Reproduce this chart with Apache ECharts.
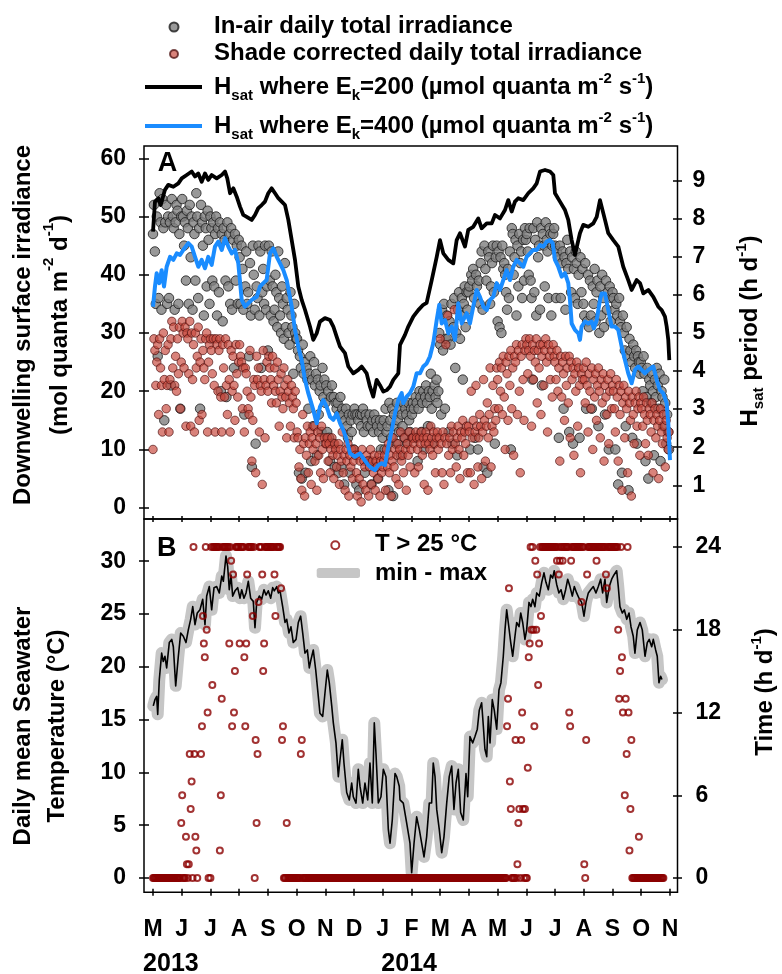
<!DOCTYPE html>
<html><head><meta charset="utf-8">
<script src="https://cdn.jsdelivr.net/npm/echarts@6/dist/echarts.min.js"></script>
<style>html,body{margin:0;padding:0;background:#fff}#c{width:782px;height:974px}</style>
</head><body><div id="c"></div>
<script>
const FONT = '"Liberation Sans", Arial, sans-serif';

// ---- axis ticks / labels ----
const monthTicks = [0,30.5,61,91.5,122,152.5,183,213.5,244,274.5,305,335.5,366,396.5,427,457.5,488,518.5,549];
const monthLetters = ['M','J','J','A','S','O','N','D','J','F','M','A','M','J','J','A','S','O','N'];
const yearLabelPos = [19, 272];
const yearLabels = ['2013','2014'];
const irrTicks = [0,10,20,30,40,50,60];
const hsatTicks = [1,2,3,4,5,6,7,8,9];
const tempTicks = [0,5,10,15,20,25,30];
const hoursTicks = [0,6,12,18,24];

// ---- daily irradiance (mol quanta m-2 d-1), day 0 = 1 May 2013 ----
const airIrr = [
 47,52,44,35,50,26,36,54,49,34,53,48,15,49,52,35,50,36,49,21,53,50,48,34,49,52,51,35,47,17,50,
 53,50,45,49,39,51,48,35,52,43,50,34,49,47,39,54,50,36,48,17,52,49,45,33,50,48,38,51,46,35,
 50,48,39,49,38,47,50,33,48,37,49,20,47,32,48,46,39,19,49,38,47,35,48,34,46,24,47,39,45,35,46,
 43,35,45,41,34,16,38,44,35,37,26,42,33,7,45,40,34,11,38,36,45,33,44,24,37,41,35,45,34,38,27,
 45,39,33,44,38,32,34,40,37,31,44,36,33,30,38,35,29,42,31,36,34,30,28,37,33,31,23,35,30,29,
 29,27,6,26,24,5,28,23,25,6,24,22,17,23,26,8,22,14,25,21,23,9,22,16,20,21,13,24,19,22,18,
 21,13,20,12,8,19,21,11,19,7,18,17,18,6,16,19,7,17,16,4,15,17,14,12,16,6,15,13,16,10,
 17,16,4,16,15,3,16,14,16,17,13,6,16,15,14,8,16,14,4,15,13,16,7,15,14,5,13,15,10,14,12,
 15,10,17,13,14,3,18,15,12,17,2,16,14,11,18,15,13,17,9,16,14,18,12,17,16,11,18,15,13,17,16,
 18,17,12,19,18,8,17,20,19,13,18,20,10,19,21,18,14,20,19,23,17,20,11,21,19,22,18,20,
 30,28,16,34,27,35,17,29,33,29,13,32,28,35,11,31,36,24,30,9,34,37,29,33,36,22,35,38,31,37,34,
 37,38,10,40,39,41,36,12,40,38,10,39,35,42,44,34,7,45,41,39,6,44,43,35,38,42,45,37,11,43,
 45,32,44,31,43,30,45,41,42,40,37,34,41,36,44,10,48,47,40,43,46,33,45,38,47,42,44,36,46,39,48,
 46,47,44,40,48,39,36,22,48,37,46,33,49,43,45,34,48,21,47,45,38,49,46,44,36,48,47,33,45,47,
 48,45,36,44,43,12,45,36,42,44,17,43,34,42,46,41,13,44,37,43,11,41,36,44,42,35,40,12,43,37,41,
 35,33,42,17,32,40,31,39,33,17,38,35,41,32,37,39,14,30,38,33,40,36,31,16,39,34,37,10,38,32,36,
 37,36,34,10,35,33,4,36,32,31,6,33,30,27,14,31,26,3,29,27,25,12,28,26,24,27,11,26,25,23,
 25,24,20,26,23,8,19,24,5,22,21,18,23,20,9,22,19,24,21,17,23,8,20,19,14,22,18,11,16,13,10
];
const shadeIrr = [
 10,29,27,21,25,28,16,29,24,21,13,30,22,27,17,21,28,13,22,29,32,24,31,21,26,20,29,23,31,17,25,
 32,30,24,31,14,30,29,23,32,14,30,22,28,13,30,24,26,31,15,25,29,16,27,24,22,29,30,13,25,28,
 29,27,23,29,21,13,29,28,20,27,29,19,13,28,24,19,29,21,16,28,22,13,27,20,26,21,15,28,23,19,25,
 28,26,25,17,24,13,24,23,20,17,16,27,19,8,15,22,21,6,26,22,24,13,21,20,4,27,22,12,21,25,20,
 26,24,22,18,26,21,24,20,18,25,22,14,20,23,19,17,24,21,19,12,22,20,18,14,21,19,17,12,20,18,
 13,12,7,10,5,3,16,11,2,12,9,14,6,11,13,4,12,10,14,8,11,3,13,9,12,6,14,10,5,12,11,
 11,12,8,11,6,10,12,9,5,11,10,7,9,11,4,10,8,13,6,9,3,10,8,11,2,9,7,10,5,8,
 10,9,6,2,9,5,8,1,10,4,8,7,3,9,8,2,7,10,4,8,6,9,3,8,7,5,9,2,8,6,7,
 8,9,3,10,7,11,6,9,2,8,12,7,10,5,9,11,4,10,13,8,9,6,12,10,3,11,9,13,7,10,12,
 12,11,6,13,12,10,7,12,11,13,9,12,4,11,13,12,3,11,10,14,12,9,13,11,6,12,13,10,
 12,29,11,6,13,4,12,28,11,33,9,12,6,14,10,13,34,11,7,12,14,10,5,13,12,15,9,13,11,14,6,
 14,13,6,20,12,15,4,13,21,14,7,12,16,14,5,13,22,15,8,14,18,12,16,24,7,14,21,13,17,15,
 24,22,17,25,20,24,16,26,19,10,25,23,15,26,21,27,17,24,9,26,25,28,16,27,20,6,26,28,22,15,27,
 29,28,23,27,29,26,14,28,22,27,25,29,18,27,24,28,16,26,28,21,27,29,25,13,28,26,22,27,19,28,
 26,25,22,27,20,24,8,26,19,25,23,15,26,21,24,18,26,12,25,22,24,9,23,20,25,14,24,21,6,23,22,
 24,22,18,25,21,13,23,20,17,24,10,22,19,23,15,21,24,20,12,22,18,23,8,21,19,16,22,11,20,23,17,
 21,20,17,13,22,19,8,21,16,20,3,18,21,12,19,17,6,20,18,15,2,19,16,11,18,20,14,17,19,9,
 18,17,14,19,16,11,18,15,9,17,16,13,18,6,15,17,12,16,14,5,15,17,13,11,16,14,7,15,12,10,13
];

// ---- Hsat period (h d-1) ----
const hsat200Day = [0,2.1,5.6,8.2,12.7,16.2,21.6,26.9,30.5,35.8,41.1,44.6,48.1,51.7,55.2,58.7,62.3,67.6,73.0,76.5,78.9,81.8,85.3,88.9,92.4,95.9,99.5,104.8,108.3,111.8,115.4,118.9,122.4,126.0,129.6,133.1,136.7,140.2,143.7,147.3,150.8,154.3,157.9,161.4,166.7,170.2,173.8,177.3,182.6,188.0,191.5,195.1,198.6,203.9,207.4,212.7,218.0,221.6,226.9,230.4,233.9,237.5,241.0,244.6,248.2,251.7,255.2,260.5,262.3,267.6,271.1,276.4,281.7,287.0,290.6,296.0,301.3,304.8,308.3,313.6,318.9,322.5,326.0,331.3,334.8,340.1,345.4,349.0,354.4,359.7,363.2,368.5,373.8,377.3,380.9,384.4,387.9,393.2,398.5,403.8,407.5,411.0,416.3,421.6,425.1,426.9,432.2,437.5,441.0,444.6,448.1,453.4,456.9,462.3,467.6,471.2,474.7,476.5,480.0,483.5,488.8,494.1,499.4,504.7,508.3,513.6,517.2,520.7,526.0,531.3,536.6,540.2,543.7,545.5,547.2,548.3];
const hsat200 = [7.66,8.45,8.54,8.36,8.76,8.89,8.84,8.93,9.06,9.15,9.24,9.11,9.19,8.97,9.19,9.02,9.15,9.06,9.15,9.24,9.06,8.67,8.80,8.58,8.32,8.10,8.05,7.97,8.10,8.28,8.36,8.45,8.67,8.80,8.67,8.54,8.45,8.36,7.97,7.44,6.92,6.22,5.87,5.61,5.17,4.82,4.99,5.30,5.39,5.34,5.17,4.90,4.64,4.47,4.12,3.94,4.03,4.12,3.94,3.59,3.33,3.77,3.63,3.46,3.50,3.59,3.77,3.94,4.69,4.95,5.17,5.43,5.60,5.74,5.79,6.39,7.00,7.44,7.09,6.92,6.83,7.44,7.62,7.27,7.71,7.79,8.01,7.75,7.88,7.88,8.10,8.01,8.23,8.49,8.19,8.45,8.54,8.49,8.67,8.80,8.93,9.24,9.28,9.24,9.15,8.67,8.45,8.23,7.97,7.44,7.05,7.62,7.84,7.79,7.88,8.05,8.49,8.54,7.97,7.62,7.44,7.27,6.74,6.39,6.13,6.39,6.31,6.04,6.13,5.95,5.69,5.60,5.43,5.17,4.82,4.29];
const hsat400Day = [0,2.1,3.9,6.7,9.2,11.7,14.5,18.1,21.6,25.2,28.7,32.2,37.5,41.1,44.6,48.1,51.7,55.2,58.7,62.3,65.8,69.3,73.0,76.5,80.0,83.6,87.1,90.6,94.2,97.7,101.2,104.8,110.1,113.6,117.1,120.7,124.2,127.8,131.4,134.9,138.4,142.0,147.3,150.8,154.3,157.9,161.4,164.9,170.2,173.8,177.3,180.8,184.4,188.0,191.5,195.1,198.6,202.1,205.7,209.2,214.5,219.8,223.3,228.6,232.2,235.7,239.3,242.8,246.3,249.9,253.5,257.0,260.5,264.1,265.8,269.4,272.9,276.4,280.0,283.5,287.0,290.6,294.1,297.6,301.3,304.0,306.6,310.1,313.6,317.2,320.7,324.2,327.8,333.1,336.6,340.1,343.7,347.2,350.8,354.4,357.9,361.4,365.0,368.5,372.0,375.6,379.1,382.6,386.2,389.7,393.2,396.8,400.3,403.8,407.5,411.0,414.5,418.1,421.6,424.4,426.9,430.4,434.0,437.5,441.0,442.8,444.6,448.1,451.7,453.4,455.2,458.7,462.3,465.8,468.2,471.2,474.7,476.5,480.0,483.5,487.1,490.6,494.1,497.7,501.2,504.7,508.3,511.8,515.4,518.9,522.4,526.0,531.3,534.9,538.4,541.9,545.5,547.2,549.0];
const hsat400 = [5.69,6.22,6.57,6.31,6.65,6.22,6.74,7.00,6.92,7.09,7.05,7.18,7.36,7.27,7.00,6.74,6.92,6.70,7.00,6.79,7.27,7.40,7.18,7.49,7.27,7.09,7.18,6.83,5.87,5.69,5.78,5.87,5.95,6.22,6.31,6.39,7.09,7.22,7.00,6.83,6.65,6.39,5.69,5.08,4.64,4.29,3.77,3.42,2.98,2.63,3.06,3.24,3.06,2.80,2.72,2.89,2.63,2.45,2.19,1.84,1.75,1.84,1.71,1.53,1.45,1.40,1.53,1.58,1.53,2.01,2.45,2.89,3.24,3.42,3.16,3.33,3.42,3.59,3.94,3.94,4.12,4.20,4.38,4.73,5.34,5.74,5.25,5.34,4.99,5.17,4.82,5.78,5.25,5.52,5.25,5.69,6.13,5.95,5.69,5.60,5.87,5.95,6.31,6.13,6.39,6.65,6.39,6.74,6.92,6.83,6.74,7.00,7.09,7.18,7.18,7.31,7.27,7.40,7.44,7.36,6.92,6.74,6.48,6.57,6.31,5.87,5.25,5.08,4.99,4.82,5.17,5.30,5.25,5.30,5.12,5.34,5.87,6.04,6.04,5.60,5.17,5.17,5.08,4.64,4.29,3.94,3.68,4.03,4.12,4.03,3.94,4.03,4.12,3.77,3.50,3.42,3.16,2.63,1.66];

// ---- daily mean seawater temperature (°C) ----
const tempDay = [0.3,2.1,3.9,5.0,6.7,9.2,10.9,12.7,14.5,17.3,19.9,21.6,24.1,26.9,29.4,32.2,35.0,37.5,40.0,42.2,44.6,47.0,49.9,52.8,55.2,57.0,59.8,62.3,64.8,67.6,70.4,73.0,74.7,77.5,79.3,81.0,82.8,84.6,87.1,89.9,92.4,94.2,96.6,98.8,101.2,103.7,106.5,108.3,110.1,112.9,115.4,117.9,120.0,122.4,125.0,127.1,128.8,131.4,133.1,134.9,137.7,140.2,142.0,144.4,146.5,149.0,151.9,154.3,156.8,159.0,161.4,163.9,166.0,167.8,170.2,172.8,174.9,177.3,180.2,182.6,185.1,187.2,189.8,191.5,194.3,196.8,198.6,201.0,202.8,205.7,208.5,211.0,212.7,215.6,218.0,219.8,222.7,225.1,228.0,230.4,232.9,235.0,236.8,239.3,242.1,244.6,247.4,249.9,251.7,254.1,257.0,258.8,261.5,262.3,265.8,269.4,272.9,274.7,277.2,280.0,282.8,285.3,287.8,290.6,293.4,295.9,297.6,299.5,301.3,304.0,306.6,309.0,311.9,314.6,317.2,319.6,321.8,324.2,326.7,329.5,332.4,334.2,336.6,339.5,341.9,344.4,346.5,349.0,350.8,352.5,354.4,356.1,357.9,360.3,362.4,365.0,367.4,369.5,372.0,373.8,375.6,377.3,379.9,382.0,384.4,386.2,388.7,390.5,392.6,395.0,396.8,399.3,401.4,403.2,405.6,407.5,410.2,412.8,415.2,417.3,419.8,422.3,424.4,426.1,428.7,431.1,433.3,435.7,438.2,440.4,442.8,445.3,447.4,449.9,452.4,455.2,457.7,459.8,462.3,464.8,467.6,470.4,472.9,475.4,477.5,480.0,481.8,484.6,487.1,489.5,492.4,494.1,495.9,498.4,500.5,503.1,505.5,507.6,510.0,511.8,514.3,517.2,519.6,522.5,524.9,527.0,529.6,531.3,533.8,535.5,537.3,539.1,540.5];
const tempMean = [16.3,16.9,17.2,15.5,18.8,21.3,20.5,21.0,19.9,22.3,22.6,21.9,18.2,21.0,23.2,22.9,22.3,23.5,24.5,25.7,24.0,25.1,25.4,26.4,24.0,26.7,27.6,25.4,27.5,27.6,27.0,28.6,28.1,30.5,29.5,27.3,28.7,26.7,27.2,27.5,26.5,27.3,26.5,27.0,28.1,26.5,26.2,23.7,26.1,26.7,26.4,27.3,26.8,27.2,26.5,27.5,27.2,27.6,27.0,27.2,25.7,24.2,24.5,23.2,23.8,22.3,22.6,24.2,24.8,23.2,21.3,21.6,19.9,20.7,21.6,19.7,17.8,15.6,15.3,17.5,19.7,18.5,16.3,14.7,12.8,9.6,11.2,13.1,10.9,8.1,7.4,9.0,7.7,7.1,10.3,8.7,7.1,9.0,7.4,10.9,7.1,14.7,11.8,7.1,7.7,10.3,9.6,4.6,3.3,5.5,9.9,9.6,8.7,7.4,7.1,5.2,3.3,0.5,3.3,5.8,4.6,3.3,2.0,3.9,7.1,7.1,10.9,9.6,6.5,4.6,2.4,3.9,7.1,9.6,10.6,6.5,9.0,10.3,6.2,5.5,9.9,7.7,13.4,12.8,13.4,14.1,15.9,16.6,14.4,12.2,11.5,15.3,12.8,16.9,15.9,14.1,17.8,18.5,21.0,23.5,25.4,24.2,22.3,21.0,22.9,24.2,23.8,25.1,24.2,22.6,23.5,26.1,25.7,26.4,25.7,27.0,26.7,28.0,28.9,28.0,27.3,28.7,28.4,29.1,27.8,27.0,27.3,26.4,27.3,28.3,27.6,26.7,27.6,27.0,26.5,26.1,24.8,26.1,27.0,27.3,27.6,27.0,27.6,28.3,27.0,28.3,26.1,27.6,28.3,28.7,29.1,27.6,25.7,25.1,25.4,24.5,25.1,23.8,22.9,21.3,23.5,24.2,23.5,21.0,22.3,22.6,21.9,22.6,21.6,21.0,18.5,19.1,18.8];

// ---- daily time with T > 25 °C (h d-1), day 0 = 1 May 2013 ----
const hoursAbove25 = [
 0,0,0,0,0,0,0,0,0,0,0,0,0,0,0,0,0,0,0,0,0,0,0,0,0,0,0,0,0,0,4,
 6,0,0,0,3,1,0,1,9,5,7,0,24,9,3,2,0,null,null,null,9,11,19,17,16,24,18,12,0,null,
 0,24,14,24,24,24,24,24,24,24,2,6,13,24,24,24,24,24,24,24,17,24,23,11,22,12,15,24,24,24,24,
 17,24,24,24,24,16,11,17,22,24,24,24,24,24,19,24,0,10,4,9,20,24,24,24,22,15,17,24,24,24,24,
 24,24,24,24,24,24,22,19,24,24,24,24,24,21,10,11,0,0,0,4,0,0,0,0,0,0,0,0,0,0,
 0,0,0,0,9,10,0,0,0,0,0,0,0,0,0,0,0,0,0,0,0,0,0,0,0,0,0,0,0,0,0,
 0,0,0,0,0,0,0,0,0,0,0,0,0,0,0,0,0,0,0,0,0,0,0,0,0,0,0,0,0,0,
 0,0,0,0,0,0,0,0,0,0,0,0,0,0,0,0,0,0,0,0,0,0,0,0,0,0,0,0,0,0,0,
 0,0,0,0,0,0,0,0,0,0,0,0,0,0,0,0,0,0,0,0,0,0,0,0,0,0,0,0,0,0,0,
 0,0,0,0,0,0,0,0,0,0,0,0,0,0,0,0,0,0,0,0,0,0,0,0,0,0,0,0,
 0,0,0,0,0,0,0,0,0,0,0,0,0,0,0,0,0,0,0,0,0,0,0,0,0,0,0,0,0,0,0,
 0,0,0,0,0,0,0,0,0,0,0,0,0,0,0,0,0,0,0,0,0,0,0,0,0,0,0,0,0,0,
 0,0,0,0,0,0,0,0,0,0,0,11,13,21,7,5,0,0,0,0,10,0,1,4,5,0,10,12,5,0,5,
 0,0,8,16,17,24,18,24,18,11,23,18,22,14,17,24,19,24,24,24,24,24,24,24,24,24,24,24,24,24,
 24,24,24,23,24,22,23,24,24,23,24,24,24,24,24,24,12,11,23,24,24,24,24,24,24,24,24,24,24,20,24,
 24,1,0,10,22,24,24,24,24,24,24,24,24,24,23,24,24,24,24,24,24,24,24,24,22,21,24,24,24,24,24,
 24,24,24,24,24,24,18,13,15,24,16,12,null,6,13,9,24,12,2,5,10,0,0,0,0,0,0,0,3,0,
 0,0,0,0,0,0,0,0,0,0,0,0,0,0,0,0,0,0,0,0,0,0,0,0,0
];

// ---------------------------------------------------------------
const airData = airIrr.map((v, i) => [i, v]);
const shadeData = shadeIrr.map((v, i) => [i, v]);
const h200Data = hsat200Day.map((d, i) => [d, hsat200[i]]);
const h400Data = hsat400Day.map((d, i) => [d, hsat400[i]]);
const tempData = tempDay.map((d, i) => [d, tempMean[i]]);
const hoursData = [];
hoursAbove25.forEach((v, i) => { if (v !== null) hoursData.push([i, v]); });

const XMIN = -9.56, XMAX = 557;
const tickStyle = {color: '#000', width: 1.5};
const lblStyle = {color: '#000', fontFamily: FONT, fontWeight: 'bold', fontSize: 23};
const noLine = {show: false, onZero: false};

function xAx(grid, pos, opts) {
  return Object.assign({
    type: 'value', gridIndex: grid, position: pos, min: XMIN, max: XMAX,
    axisLine: noLine, splitLine: {show: false},
    axisLabel: {show: false}, axisTick: {show: false}
  }, opts);
}
// crossing ticks: axis shifted inward by half tick length, ticks drawn outward
function yAx(grid, pos, min, max, ticks, half, margin) {
  return {
    type: 'value', gridIndex: grid, position: pos, min: min, max: max, offset: -half,
    axisLine: noLine, splitLine: {show: false},
    axisTick: {show: true, inside: false, length: half * 2, lineStyle: tickStyle, customValues: ticks},
    axisLabel: Object.assign({show: true, customValues: ticks, margin: margin + half}, lblStyle)
  };
}

const T = 24;
function rich(L) {
  return {
    a: {fontSize: T, fontWeight: 'bold', fontFamily: FONT, color: '#000', lineHeight: L},
    sp: {fontSize: 15, fontWeight: 'bold', fontFamily: FONT, color: '#000', lineHeight: L - 17, verticalAlign: 'top'},
    sb: {fontSize: 15, fontWeight: 'bold', fontFamily: FONT, color: '#000', lineHeight: L - 17, verticalAlign: 'bottom'}
  };
}
// legend component draws the icon only; its label is a graphic text
function legendIcon(name, left, centerY, w, h, icon) {
  const o = {
    data: [name], left: left, top: centerY - h / 2, padding: 0, itemGap: 0,
    itemWidth: w, itemHeight: h, selectedMode: false,
    formatter: () => '',
    textStyle: {fontSize: 2, lineHeight: 2}
  };
  if (icon) o.icon = icon;
  return o;
}
function gText(x, y, text, L, rot, align) {
  return {type: 'text', x: x, y: y, rotation: rot || 0, silent: true,
    style: {text: text, rich: rich(L), align: align || 'center', verticalAlign: 'middle', fill: '#000',
      fontSize: T, fontWeight: 'bold', fontFamily: FONT}};
}

const option = {
  animation: false,
  backgroundColor: '#fff',
  grid: [
    {left: 144, top: 146, width: 533.5, height: 373, show: true, borderColor: '#000', borderWidth: 1.5, backgroundColor: 'transparent', outerBoundsMode: 'none'},
    {left: 144, top: 519, width: 533.5, height: 373.3, show: true, borderColor: '#000', borderWidth: 1.5, backgroundColor: 'transparent', outerBoundsMode: 'none'}
  ],
  xAxis: [
    xAx(0, 'bottom', {}),
    xAx(1, 'bottom', {
      offset: -3.5,
      axisTick: {show: true, inside: false, length: 7, lineStyle: tickStyle, customValues: monthTicks},
      axisLabel: Object.assign({show: true, customValues: monthTicks, margin: 29,
        formatter: v => monthLetters[monthTicks.indexOf(v)]}, lblStyle)
    }),
    xAx(1, 'top', {
      offset: -3,
      axisTick: {show: true, inside: false, length: 6, lineStyle: tickStyle, customValues: monthTicks}
    }),
    xAx(1, 'bottom', {
      axisLabel: Object.assign({show: true, customValues: yearLabelPos, margin: 59,
        formatter: v => yearLabels[yearLabelPos.indexOf(v)]}, lblStyle, {fontSize: 25})
    })
  ],
  yAxis: [
    yAx(0, 'left', -1.94, 62.11, irrTicks, 5, 18),
    yAx(0, 'right', 0.115, 9.911, hsatTicks, 4.5, 15),
    yAx(1, 'left', -1.35, 34.0, tempTicks, 5, 18),
    yAx(1, 'right', -1.03, 26.02, hoursTicks, 4.5, 18)
  ],
  legend: [
    legendIcon('In-air daily total irradiance', 168.5, 26, 9, 9, 'circle'),
    legendIcon('Shade corrected daily total irradiance', 169, 53, 8, 8, 'circle'),
    legendIcon('Hsat200', 145, 87, 57, 4, 'rect'),
    legendIcon('Hsat400', 145, 126, 57, 4, 'rect'),
    legendIcon('T > 25 °C', 330.3, 544.3, 8, 8, 'circle'),
    legendIcon('min - max', 316.7, 573, 43.3, 10, 'roundRect')
  ],
  graphic: [
    gText(214, 26, '{a|In-air daily total irradiance}', 26, 0, 'left'),
    gText(214, 53, '{a|Shade corrected daily total irradiance}', 26, 0, 'left'),
    gText(214, 87, '{a|H}{sb|sat}{a| where E}{sb|k}{a|=200 (µmol quanta m}{sp|-2}{a| s}{sp|-1}{a|)}', 32, 0, 'left'),
    gText(214, 126, '{a|H}{sb|sat}{a| where E}{sb|k}{a|=400 (µmol quanta m}{sp|-2}{a| s}{sp|-1}{a|)}', 32, 0, 'left'),
    gText(375, 544, '{a|T > 25 °C}', 26, 0, 'left'),
    gText(375, 573, '{a|min - max}', 26, 0, 'left'),
    {type: 'text', x: 167.5, y: 164, silent: true,
      style: {text: 'A', align: 'center', verticalAlign: 'middle', fill: '#000', fontSize: 27, fontWeight: 'bold', fontFamily: FONT}},
    {type: 'text', x: 166.7, y: 549, silent: true,
      style: {text: 'B', align: 'center', verticalAlign: 'middle', fill: '#000', fontSize: 27, fontWeight: 'bold', fontFamily: FONT}},
    gText(41.5, 325, '{a|Downwelling surface irradiance}\n{a|(mol quanta m}{sp|-2}{a| d}{sp|-1}{a|)}', 37, Math.PI / 2),
    gText(40, 726, '{a|Daily mean Seawater}\n{a|Temperature (°C)}', 34, Math.PI / 2),
    gText(750, 331, '{a|H}{sb|sat}{a| period (h d}{sp|-1}{a|)}', 32, Math.PI / 2),
    gText(765, 692, '{a|Time (h d}{sp|-1}{a|)}', 32, Math.PI / 2)
  ],
  series: [
    {name: 'In-air daily total irradiance', type: 'scatter', xAxisIndex: 0, yAxisIndex: 0, data: airData,
      symbol: 'circle', symbolSize: 9.5, z: 2,
      itemStyle: {color: '#808080', borderColor: '#1a1a1a', borderWidth: 1}},
    {name: 'Shade corrected daily total irradiance', type: 'scatter', xAxisIndex: 0, yAxisIndex: 0, data: shadeData,
      symbol: 'circle', symbolSize: 8.5, z: 3,
      itemStyle: {color: 'rgba(200,74,62,0.85)', borderColor: 'rgba(70,10,10,0.9)', borderWidth: 0.9}},
    {name: 'Hsat200', type: 'line', xAxisIndex: 0, yAxisIndex: 1, data: h200Data, symbol: 'none', z: 4,
      lineStyle: {color: '#000', width: 3.8, join: 'round'}, itemStyle: {color: '#000'}},
    {name: 'Hsat400', type: 'line', xAxisIndex: 0, yAxisIndex: 1, data: h400Data, symbol: 'none', z: 5,
      lineStyle: {color: '#1a8cff', width: 4, join: 'round'}, itemStyle: {color: '#1a8cff'}},
    {name: 'min - max', type: 'line', xAxisIndex: 1, yAxisIndex: 2, data: tempData, symbol: 'none', z: 2,
      lineStyle: {color: '#c6c6c6', width: 12, cap: 'round', join: 'round'}, itemStyle: {color: '#c6c6c6'}},
    {name: 'Daily mean', type: 'line', xAxisIndex: 1, yAxisIndex: 2, data: tempData, symbol: 'none', z: 3,
      lineStyle: {color: '#000', width: 1.6, join: 'round'}},
    {name: 'T > 25 °C', type: 'scatter', xAxisIndex: 1, yAxisIndex: 3, data: hoursData,
      symbol: 'circle', symbolSize: 6, z: 4,
      itemStyle: {color: 'rgba(255,255,255,0)', borderColor: '#8b0000', borderWidth: 2}}
  ]
};

const chart = echarts.init(document.getElementById('c'), null, {renderer: 'canvas'});
chart.setOption(option);
</script></body></html>
